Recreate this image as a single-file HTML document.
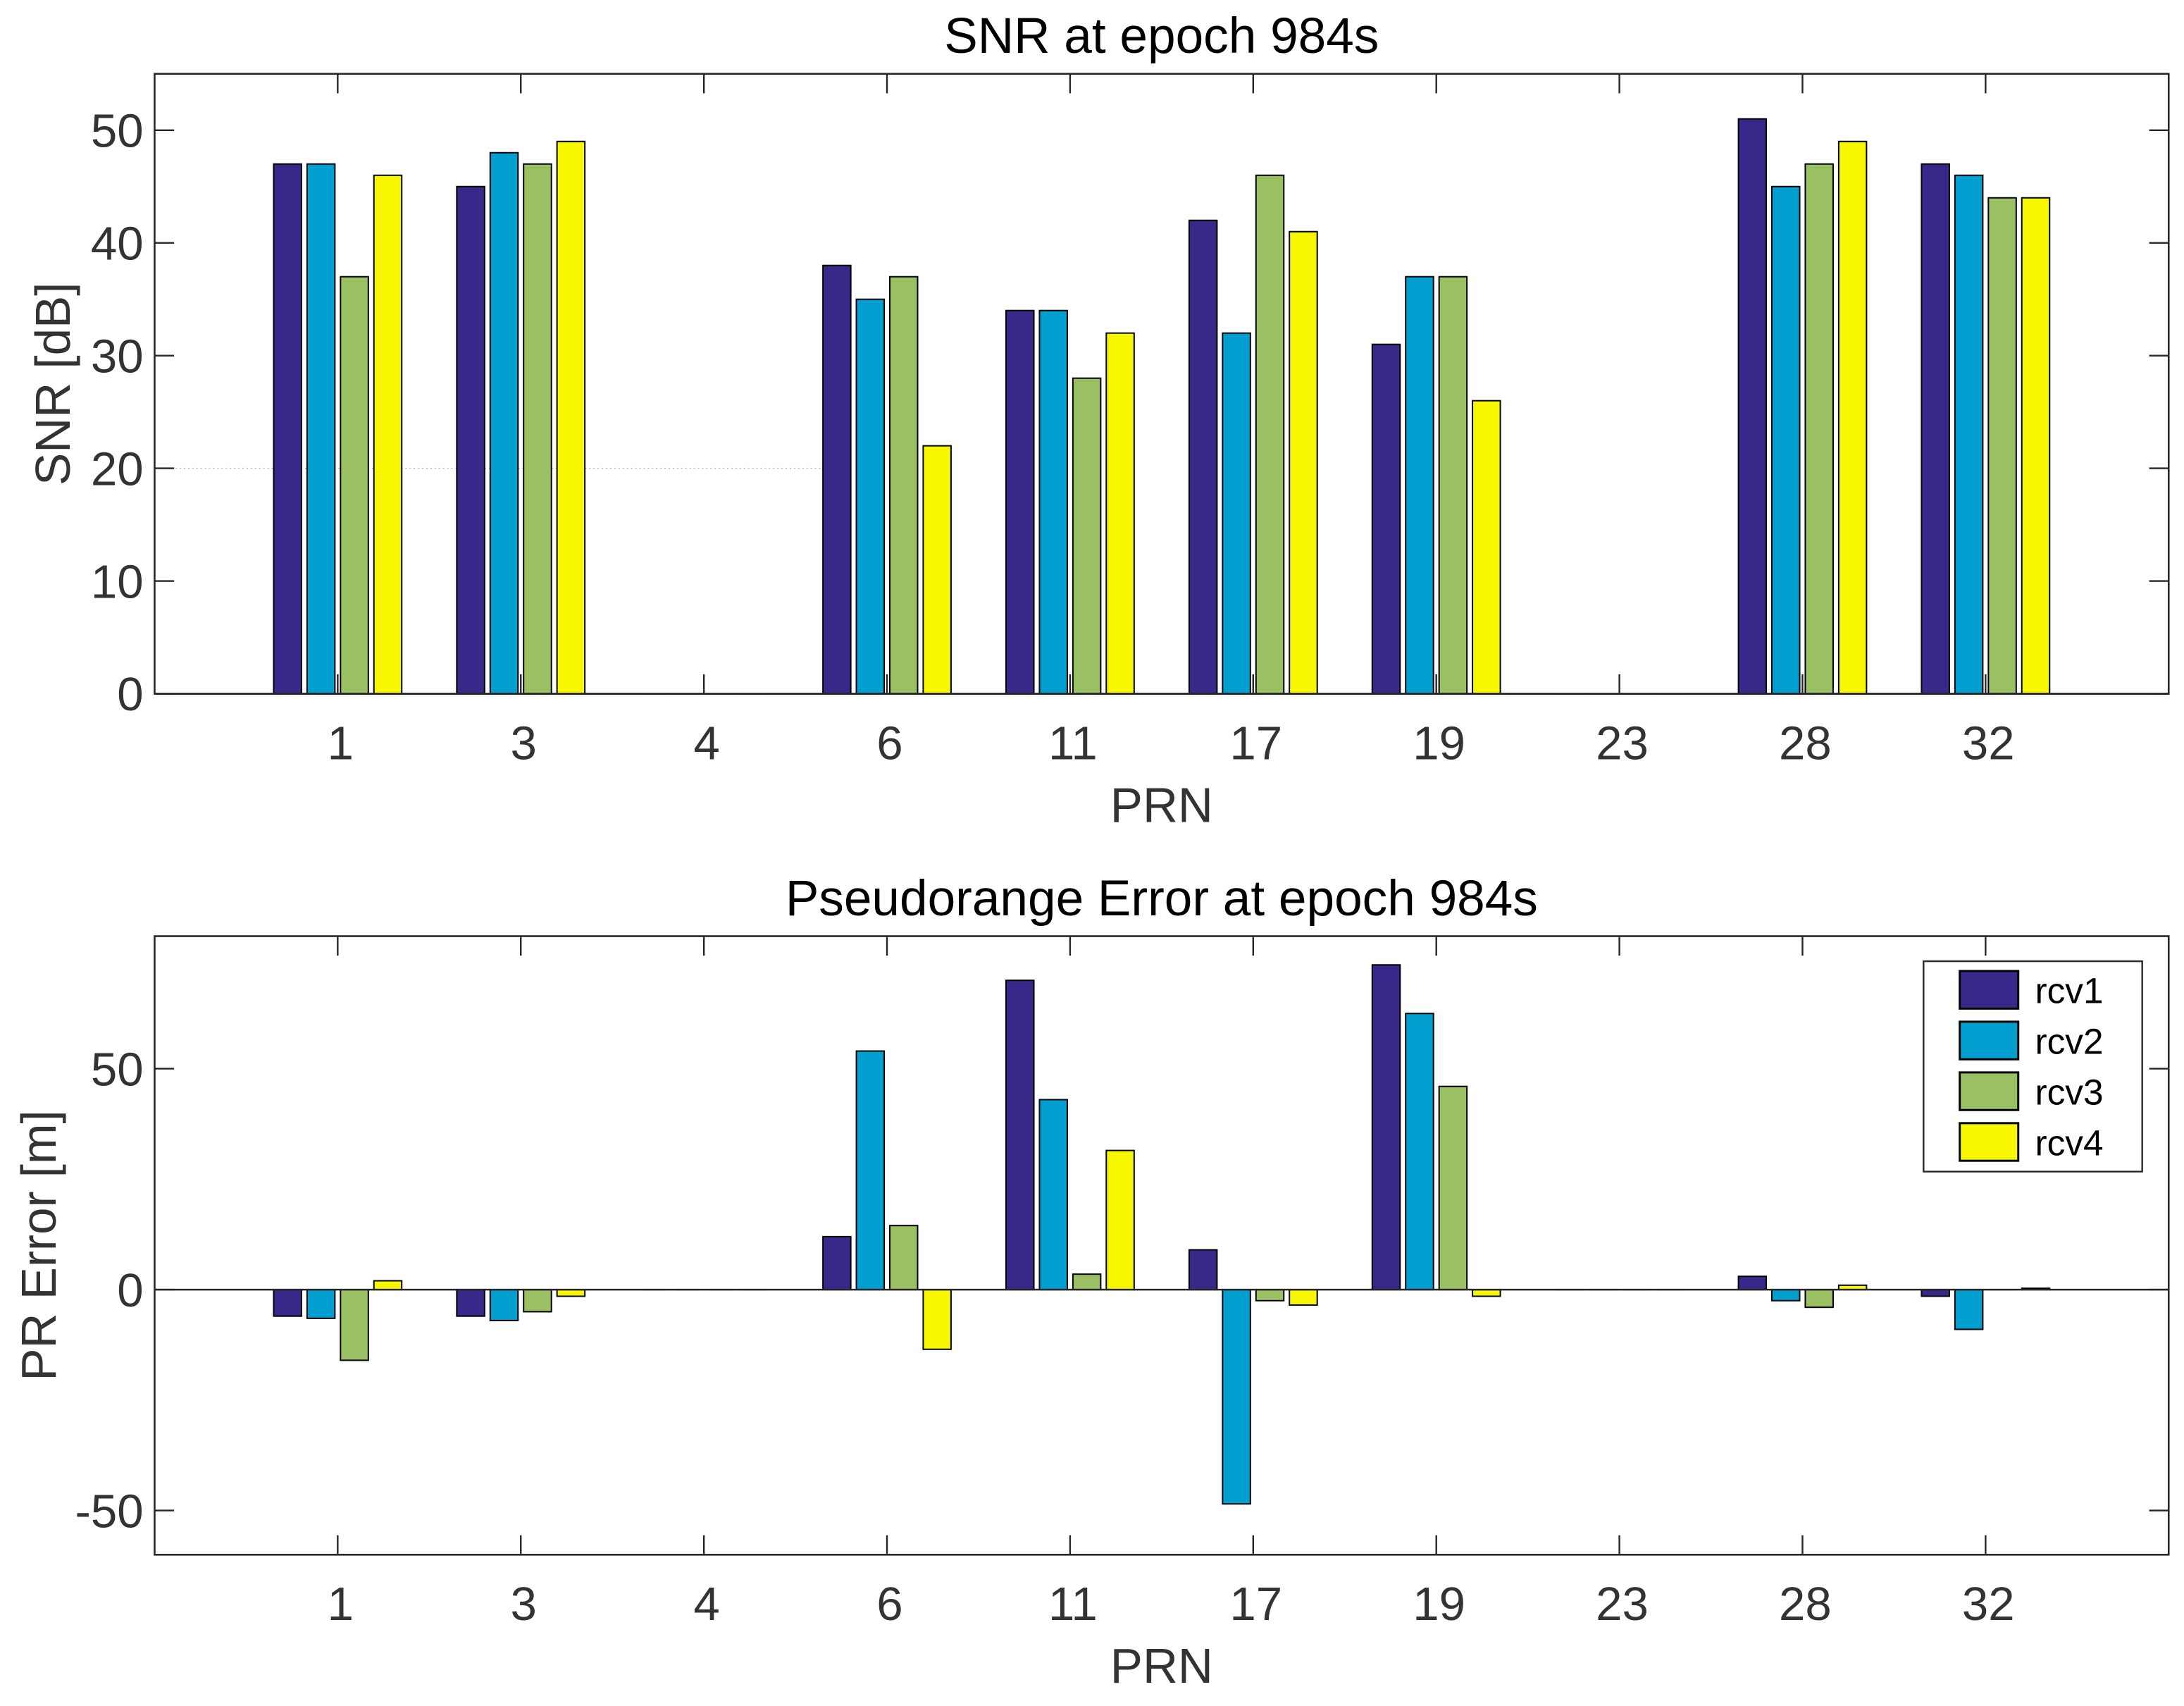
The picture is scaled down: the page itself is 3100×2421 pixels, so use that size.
<!DOCTYPE html>
<html><head><meta charset="utf-8"><style>
html,body{margin:0;padding:0;background:#fff;}
svg{display:block;font-family:"Liberation Sans",Arial,sans-serif;}
</style></head><body>
<svg id="chart" width="3100" height="2421" viewBox="0 0 1568 1224.6" preserveAspectRatio="none" xmlns="http://www.w3.org/2000/svg">
<rect width="1568" height="1224.6" fill="#fff"/>
<g id="top"></g>
<g id="bot"></g>
</svg>
<script>
const categories = ["1","3","4","6","11","17","19","23","28","32"];
const seriesNames = ["rcv1","rcv2","rcv3","rcv4"];
const snrRcv1 = [47,45,0,38,34,42,31,0,51,47];
const snrRcv2 = [47,48,0,35,34,32,37,0,45,46];
const snrRcv3 = [37,47,0,37,28,46,37,0,47,44];
const snrRcv4 = [46,49,0,22,32,41,26,0,49,44];
const prRcv1 = [-6,-6,0,12,70,9,73.5,0,3,-1.5];
const prRcv2 = [-6.5,-7,0,54,43,-48.5,62.5,0,-2.5,-9];
const prRcv3 = [-16,-5,0,14.5,3.5,-2.5,46,0,-4,0];
const prRcv4 = [2,-1.5,0,-13.5,31.5,-3.5,-1.5,0,1,0.3];
const snrTicks = [0,10,20,30,40,50];
const prTicks = [-50,0,50];
const colors = ["#37288a","#009fd0","#9bc064","#f7f700"];
const NS="http://www.w3.org/2000/svg";
function mk(parent, tag, attrs, text){
  const e=document.createElementNS(NS,tag);
  for(const k in attrs) e.setAttribute(k,attrs[k]);
  if(text!==undefined) e.textContent=text;
  parent.appendChild(e); return e;
}
function drawPlot(g, box, ylim, series, ticks, title, ylabel, legend){
  const L=box.l,R=box.r,T=box.t,B=box.b;
  const xs=i=>L+(i+1)*(R-L)/11;
  const ys=v=>B-(v-ylim[0])*(B-T)/(ylim[1]-ylim[0]);
  const unit=(R-L)/11;
  if(ylim[0]===0){
    const dl=mk(g,'line',{x1:L,x2:590,y1:ys(20),y2:ys(20),stroke:'#bbb','stroke-width':0.8,'stroke-dasharray':'1 2'});
    
    
  }
  series.forEach((vals,s)=>{
    vals.forEach((v,i)=>{
      const cx=xs(i)+(s-1.5)*0.1825*unit;
      const w=0.152*unit;
      const y0=ys(0),y1=ys(v);
      const r=mk(g,'rect',{x:cx-w/2,y:Math.min(y0,y1),width:w,height:Math.max(Math.abs(y1-y0),0.01),fill:colors[s],stroke:'#000','stroke-width':1});
      
      
    });
  });
  mk(g,'line',{x1:L,x2:R,y1:ys(0),y2:ys(0),stroke:'#262626','stroke-width':1.3});
  const bx=mk(g,'rect',{x:L,y:T,width:R-L,height:B-T,fill:'none',stroke:'#262626','stroke-width':1.3});
  
  
  categories.forEach((c,i)=>{
    const x=xs(i);
    mk(g,'line',{x1:x,x2:x,y1:T,y2:T+14,stroke:'#262626','stroke-width':1.2});
    mk(g,'line',{x1:x,x2:x,y1:B,y2:B-14,stroke:'#262626','stroke-width':1.2});
    const t=mk(g,'text',{x:x+2,y:B+47,'text-anchor':'middle','font-size':34,fill:'#333'},c);
    
    
  });
  ticks.forEach(v=>{
    const y=ys(v);
    mk(g,'line',{x1:L,x2:L+14,y1:y,y2:y,stroke:'#262626','stroke-width':1.2});
    mk(g,'line',{x1:R,x2:R-14,y1:y,y2:y,stroke:'#262626','stroke-width':1.2});
    const t=mk(g,'text',{x:L-8,y:y+12,'text-anchor':'end','font-size':34,fill:'#333'},String(v));
    
    
  });
  const xt=mk(g,'text',{x:(L+R)/2,y:B+92,'text-anchor':'middle','font-size':35,fill:'#333'},'PRN');
  
  
  const cy=(T+B)/2;
  const yt=mk(g,'text',{x:0,y:0,'text-anchor':'middle','font-size':35,fill:'#333',transform:`translate(${box.ylx},${cy}) rotate(-90)`},ylabel);
  
  
  const tt=mk(g,'text',{x:(L+R)/2,y:T-15,'text-anchor':'middle','font-size':36,fill:'#000'},title);
  
  
  if(legend){
    const lg=mk(g,'g',{});
    
    
    mk(lg,'rect',{x:1381,y:690,width:157,height:151,fill:'#fff',stroke:'#262626','stroke-width':1.2});
    seriesNames.forEach((n,s)=>{
      const ey=697+s*36.4;
      const ent=mk(lg,'g',{});
      
      
      mk(ent,'rect',{x:1407,y:ey,width:42,height:27,fill:colors[s],stroke:'#000','stroke-width':1.5});
      mk(ent,'text',{x:1461,y:ey+23,'font-size':26,fill:'#000'},n);
    });
  }
}
drawPlot(document.getElementById('top'),{l:111,r:1557,t:53,b:498,ylx:50},[0,55],[snrRcv1,snrRcv2,snrRcv3,snrRcv4],snrTicks,'SNR at epoch 984s','SNR [dB]',false);
drawPlot(document.getElementById('bot'),{l:111,r:1557,t:672,b:1116,ylx:40},[-60,80],[prRcv1,prRcv2,prRcv3,prRcv4],prTicks,'Pseudorange Error at epoch 984s','PR Error [m]',true);
</script>
</body></html>
